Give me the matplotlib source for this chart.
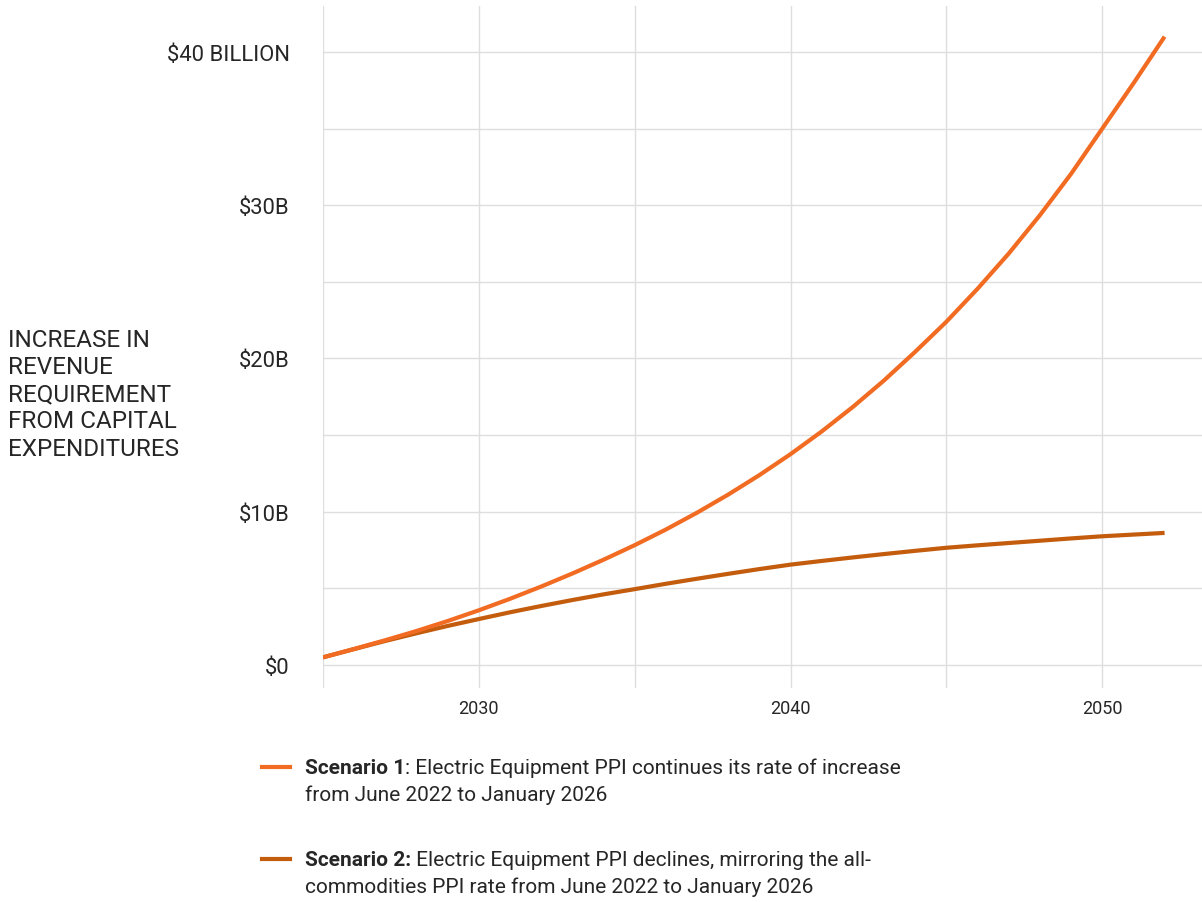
"""Increase in revenue requirement from capital expenditures, two PPI scenarios."""

from matplotlib import pyplot
from matplotlib.lines import Line2D
from matplotlib.ticker import MultipleLocator, FuncFormatter

# Data (billions of dollars).
years = list(range(2025, 2053))
scenario1 = [0.5, 1.05, 1.62, 2.22, 2.87, 3.57, 4.32, 5.12, 5.97, 6.87,
             7.82, 8.84, 9.94, 11.12, 12.39, 13.76, 15.24, 16.84, 18.57, 20.44,
             22.4, 24.55, 26.85, 29.35, 32.05, 35.0, 37.95, 41.0]
scenario2 = [0.5, 1.04, 1.57, 2.07, 2.55, 3.0, 3.44, 3.85, 4.24, 4.61,
             4.95, 5.3, 5.63, 5.95, 6.26, 6.55, 6.79, 7.02, 7.24, 7.45,
             7.65, 7.81, 7.96, 8.11, 8.26, 8.4, 8.51, 8.62]

color1 = '#F26B22'
color2 = '#C45C0E'
text_color = '#262626'
grid_color = '#DEDEDE'

W, H = 1202, 903
pyplot.rc('font', family=['Roboto', 'DejaVu Sans'], size=14)
fig = pyplot.figure(figsize=(W / 100, H / 100), dpi=100)
ax = fig.add_axes([323 / W, 1 - 689 / H, 1 - 323 / W, (689 - 7) / H])

ax.plot(years, scenario2, color=color2, lw=3, solid_capstyle='butt', zorder=3)
ax.plot(years, scenario1, color=color1, lw=3, solid_capstyle='butt', zorder=4)

ax.set_xlim(2025, 2053.2)
ax.set_ylim(-1.5, 43.0)
ax.xaxis.set_major_locator(MultipleLocator(10))
ax.xaxis.set_minor_locator(MultipleLocator(5))
ax.yaxis.set_major_locator(MultipleLocator(10))
ax.yaxis.set_minor_locator(MultipleLocator(5))


def fmt_y(v, pos):
    if v == 0:
        return '$0'
    if v == 40:
        return '$40 BILLION'
    return f'${v:.0f}B'


ax.yaxis.set_major_formatter(FuncFormatter(fmt_y))
ax.grid(which='both', color=grid_color, lw=1.0)
ax.set_axisbelow(True)
for side in ax.spines.values():
    side.set_visible(False)
ax.tick_params(which='both', length=0, colors=text_color)
ax.tick_params(axis='y', labelsize=15.8, pad=24)
ax.tick_params(axis='x', labelsize=13, pad=8)

# Y-axis title, placed left of the tick labels.
fig.text(8 / W, 1 - 329 / H,
         'INCREASE IN\nREVENUE\nREQUIREMENT\nFROM CAPITAL\nEXPENDITURES',
         ha='left', va='top', fontsize=17.5, color=text_color, linespacing=1.23)

# Custom legend below the chart.
entries = [
    (768, color1, 'Scenario 1', ': Electric Equipment PPI continues its rate of increase',
     'from June 2022 to January 2026'),
    (860, color2, 'Scenario 2:', ' Electric Equipment PPI declines, mirroring the all-',
     'commodities PPI rate from June 2022 to January 2026'),
]
for y, color, bold, rest, second in entries:
    fig.add_artist(Line2D([262 / W, 290 / W], [1 - y / H, 1 - y / H],
                          color=color, lw=3, transform=fig.transFigure))
    t = fig.text(305 / W, 1 - (y + 1) / H, bold, fontweight='bold', fontsize=15,
                 color=text_color, ha='left', va='center')
    ax.annotate(rest, xy=(1, 0), xycoords=t, ha='left', va='bottom',
                fontsize=15, color=text_color, annotation_clip=False)
    fig.text(305 / W, 1 - (y + 27) / H, second, fontsize=15,
             color=text_color, ha='left', va='center')

fig.savefig('out.png', dpi=100)
